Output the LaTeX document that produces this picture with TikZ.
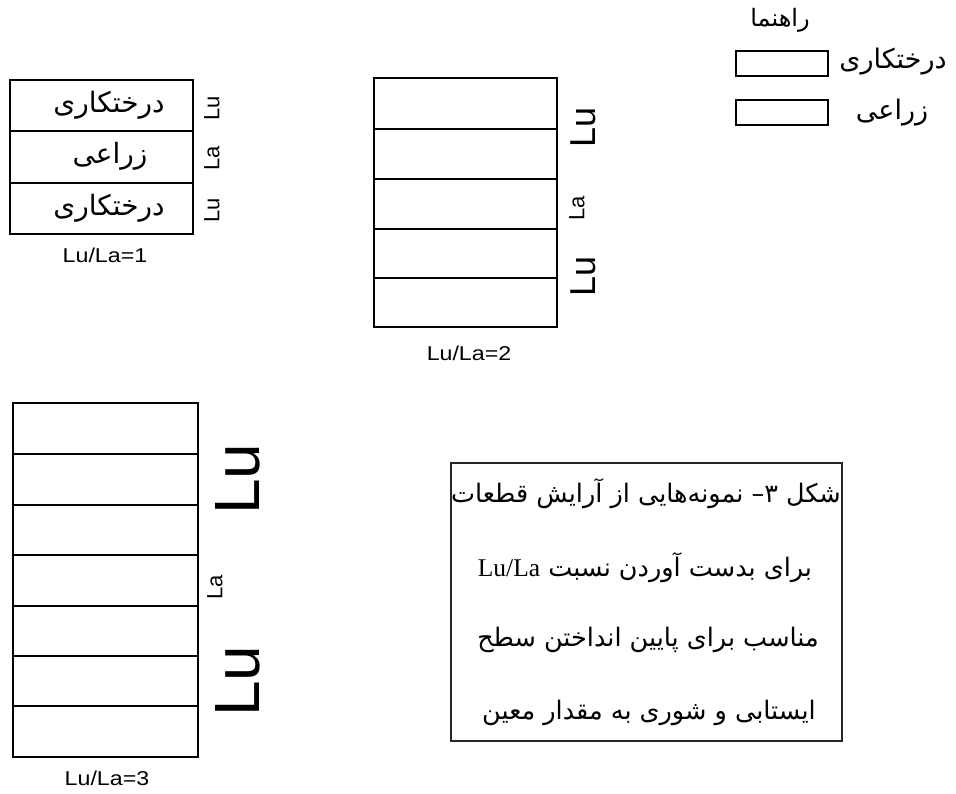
\documentclass[tikz,border=0pt]{standalone}
\usepackage{fontspec}
\setmainfont{Liberation Sans}
\newfontfamily\fa[Script=Arabic]{DejaVu Sans}
\newfontfamily\tms{Liberation Serif}
\TeXXeTstate=1
\begin{document}
\begin{tikzpicture}[x=1pt,y=-1pt,
  cell/.style={draw=black,line width=1.6pt},
  capbox/.style={draw=black!85,line width=1.1pt},
  lbl/.style={inner sep=0pt,font=\fontsize{22}{22}\selectfont,rotate=90},
  big/.style={inner sep=0pt,font=\fontsize{36}{36}\selectfont,rotate=90},
  huge/.style={inner sep=0pt,font=\fontsize{64}{64}\selectfont,rotate=90},
  ratio/.style={inner sep=0pt,font=\fontsize{20}{20}\selectfont,xscale=1.16},
  fatext/.style={inner sep=0pt,font=\fa\fontsize{28}{28}\selectfont},
  captext/.style={inner sep=0pt,font=\fa\fontsize{25.5}{25.5}\selectfont}]
\useasboundingbox[fill=white] (0,0) rectangle (956,794);
% diagram 1
\draw[cell] (10,80) rectangle (193,131);
\draw[cell] (10,131) rectangle (193,183);
\draw[cell] (10,183) rectangle (193,234);
\node[fatext] (d1a) at (109,105) {\beginR درختکاری\endR};
\node[fatext] (d1b) at (110,156) {\beginR زراعی\endR};
\node[fatext] (d1c) at (109,208) {\beginR درختکاری\endR};
\node[lbl] (l1a) at (212,108) {Lu};
\node[lbl] (l1b) at (212,158) {La};
\node[lbl] (l1c) at (212,210) {Lu};
\node[ratio] (r1) at (105,255) {Lu/La=1};
% diagram 2
\foreach \y/\z in {78/129,129/179,179/229,229/278,278/327}
  \draw[cell] (374,\y) rectangle (557,\z);
\node[big] (l2a) at (583,127) {Lu};
\node[lbl] (l2b) at (577,208) {La};
\node[big] (l2c) at (583,276) {Lu};
\node[ratio] (r2) at (469,353) {Lu/La=2};
% diagram 3
\foreach \y/\z in {403/454,454/505,505/555,555/606,606/656,656/706,706/757}
  \draw[cell] (13,\y) rectangle (198,\z);
\node[huge] (l3a) at (238,479) {Lu};
\node[lbl] (l3b) at (215,587) {La};
\node[huge] (l3c) at (238,681) {Lu};
\node[ratio] (r3) at (107,778) {Lu/La=3};
% legend
\node[fatext,font=\fa\fontsize{24}{24}\selectfont] (leg) at (780,20) {\beginR راهنما\endR};
\draw[cell] (736,51) rectangle (828,76);
\draw[cell] (736,100) rectangle (828,125);
\node[fatext,font=\fa\fontsize{27}{27}\selectfont] (lg1) at (893,62) {\beginR درختکاری\endR};
\node[fatext,font=\fa\fontsize{27}{27}\selectfont] (lg2) at (892,113) {\beginR زراعی\endR};
% caption
\draw[capbox] (451,463) rectangle (842,741);
\node[captext] (c1) at (646,494) {\beginR شکل ۳– نمونه‌هایی از آرایش قطعات\endR};
\node[captext] (c2) at (645,568) {\beginR برای بدست آوردن نسبت \beginL{\tms Lu/La}\endL\endR};
\node[captext] (c3) at (648,640) {\beginR مناسب برای پایین انداختن سطح\endR};
\node[captext] (c4) at (649,713) {\beginR ایستابی و شوری به مقدار معین\endR};
\end{tikzpicture}
\end{document}
